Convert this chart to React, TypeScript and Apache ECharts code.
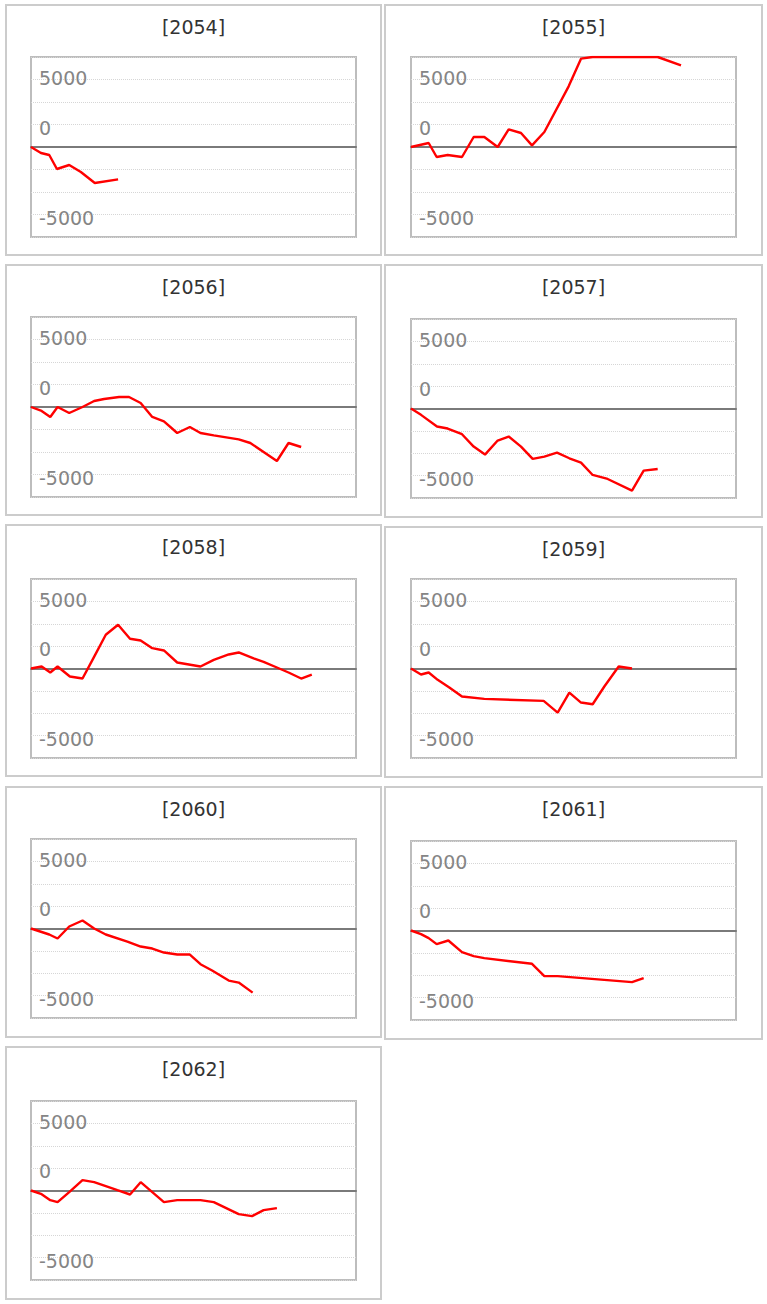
import React, { useEffect, useRef } from "react";
import * as echarts from "echarts";

// ---------- data ----------
const panelNames = ["[2054]", "[2055]", "[2056]", "[2057]", "[2058]", "[2059]", "[2060]", "[2061]", "[2062]"];

// x = games played, y = difference (coins)
const x2054 = [0, 307, 562, 798, 1176, 1534, 1963, 2679];
const y2054 = [0, -667, -889, -2444, -2000, -2778, -4000, -3593];

const x2055 = [0, 544, 790, 1128, 1569, 1928, 2256, 2667, 3005, 3385, 3723, 4103, 4851, 5231, 5590, 7590, 8308];
const y2055 = [0, 444, -1111, -889, -1111, 1111, 1111, 0, 1963, 1556, 185, 1667, 6741, 9815, 10000, 10000, 9074];

const x2056 = [0, 327, 593, 818, 1176, 1585, 1943, 2249, 2710, 3016, 3374, 3732, 4090, 4499, 4888, 5215, 5624, 6391, 6748, 7566, 7924, 8313];
const y2056 = [0, -444, -1111, 0, -667, 0, 667, 889, 1111, 1111, 444, -1111, -1593, -2889, -2222, -2889, -3148, -3593, -4000, -6000, -4000, -4444];

const x2057 = [0, 308, 800, 1128, 1569, 1928, 2277, 2667, 3005, 3385, 3744, 4103, 4492, 4872, 5231, 5590, 6051, 6800, 7159, 7590];
const y2057 = [0, -709, -2015, -2239, -2873, -4254, -5149, -3582, -3134, -4254, -5634, -5373, -4925, -5560, -6045, -7425, -7873, -9179, -6940, -6754];

const x2058 = [0, 327, 593, 818, 1196, 1585, 1892, 2301, 2679, 3047, 3374, 3732, 4090, 4499, 5215, 5624, 6084, 6391, 6851, 7157, 7566, 7924, 8313, 8640];
const y2058 = [0, 224, -448, 224, -895, -1119, 970, 3767, 4886, 3320, 3133, 2275, 2014, 671, 224, 970, 1567, 1790, 1119, 746, 112, -448, -1119, -671];

const x2059 = [0, 308, 544, 821, 1179, 1569, 2256, 4082, 4513, 4872, 5231, 5590, 5949, 6390, 6800];
const y2059 = [0, -671, -448, -1268, -2126, -3133, -3394, -3618, -4924, -2686, -3805, -3991, -2014, 224, 0];

const x2060 = [0, 562, 818, 1176, 1585, 1943, 2301, 2965, 3374, 3732, 4090, 4499, 4888, 5215, 5573, 6084, 6391, 6820];
const y2060 = [0, -671, -1119, 224, 895, 0, -671, -1455, -2014, -2238, -2686, -2909, -2909, -3991, -4700, -5819, -6043, -7162];

const x2061 = [0, 308, 544, 790, 1149, 1569, 1928, 2256, 3723, 4103, 4513, 6800, 7159];
const y2061 = [0, -409, -856, -1525, -1116, -2418, -2864, -3088, -3720, -5096, -5096, -5766, -5320];

const x2062 = [0, 327, 593, 818, 1176, 1585, 1943, 2301, 2658, 3047, 3374, 3732, 4090, 4499, 5215, 5624, 6135, 6391, 6800, 7157, 7566];
const y2062 = [0, -409, -1079, -1302, -186, 1153, 930, 484, 37, -446, 930, -186, -1302, -1079, -1079, -1302, -2195, -2641, -2864, -2195, -1972];

const seriesX = [x2054, x2055, x2056, x2057, x2058, x2059, x2060, x2061, x2062];
const seriesY = [y2054, y2055, y2056, y2057, y2058, y2059, y2060, y2061, y2062];

// axis tick labels as printed on the chart
const yTickValues = [7500, 2500, -7500];
const yTickLabels = ["5000", "0", "-5000"];
const Y_MIN = -10000;
const Y_MAX = 10000;
const Y_STEP = 2500;
const X_MIN = 0;
const X_MAX = 10000;

// ---------- layout ----------
const boxes = [
  { x: 6, y: 5, w: 375, h: 250 },
  { x: 385, y: 5, w: 377, h: 250 },
  { x: 6, y: 265, w: 375, h: 250 },
  { x: 385, y: 265, w: 377, h: 252 },
  { x: 6, y: 525, w: 375, h: 251 },
  { x: 385, y: 527, w: 377, h: 250 },
  { x: 6, y: 787, w: 375, h: 250 },
  { x: 385, y: 787, w: 377, h: 252 },
  { x: 6, y: 1047, w: 375, h: 252 },
];
const plots = [
  { left: 31, top: 57, width: 325, height: 180 },
  { left: 411, top: 57, width: 325, height: 180 },
  { left: 31, top: 317, width: 325, height: 180 },
  { left: 411, top: 319, width: 325, height: 179 },
  { left: 31, top: 579, width: 325, height: 179 },
  { left: 411, top: 579, width: 325, height: 179 },
  { left: 31, top: 839, width: 325, height: 179 },
  { left: 411, top: 841, width: 325, height: 179 },
  { left: 31, top: 1101, width: 325, height: 179 },
];
// label style keys (vertical nudge per label)
const labelStyleKeys = ["up", "dn", "dn"];

export default function App() {
  const ref = useRef<HTMLDivElement>(null);

  useEffect(() => {
    if (!ref.current) return;
    const chart = echarts.init(ref.current, null, { renderer: "svg" });

    const grid = plots.map((p) => ({
      left: p.left,
      top: p.top,
      width: p.width,
      height: p.height,
      show: true,
      borderColor: "#bdbdbd",
      borderWidth: 2,
      backgroundColor: "transparent",
    }));

    const xAxis = plots.map((_, i) => ({
      type: "value",
      gridIndex: i,
      min: X_MIN,
      max: X_MAX,
      axisLine: { show: true, onZero: true, lineStyle: { color: "#7a7a7a", width: 2 } },
      axisTick: { show: false },
      axisLabel: { show: false },
      splitLine: { show: false },
      z: 3,
    }));

    const labelFont = { color: "#858585", fontFamily: "DejaVu Sans", fontSize: 19 };

    const yAxis = plots.map((_, i) => ({
      type: "value",
      gridIndex: i,
      min: Y_MIN,
      max: Y_MAX,
      interval: Y_STEP,
      axisLine: { show: false },
      axisTick: { show: false },
      axisLabel: {
        show: true,
        inside: true,
        margin: 8,
        ...labelFont,
        verticalAlign: "middle",
        formatter: (v: number) => {
          const k = yTickValues.indexOf(v);
          return k >= 0 ? `{${labelStyleKeys[k]}|${yTickLabels[k]}}` : "";
        },
        rich: {
          up: { ...labelFont, padding: [0, 0, 3, 0] },
          dn: { ...labelFont, padding: [6, 0, 0, 0] },
        },
      },
      splitLine: { show: true, lineStyle: { color: "#d6d6d6", type: "dotted", width: 1 } },
    }));

    const series = seriesX.map((xs, i) => ({
      type: "line",
      xAxisIndex: i,
      yAxisIndex: i,
      data: xs.map((x, j) => [x, seriesY[i][j]]),
      symbol: "none",
      clip: true,
      lineStyle: { color: "#ff0000", width: 2.4 },
      z: 5,
    }));

    const graphic: any[] = [];
    boxes.forEach((b, i) => {
      graphic.push({
        type: "rect",
        shape: { x: b.x, y: b.y, width: b.w, height: b.h },
        style: { fill: "none", stroke: "#cccccc", lineWidth: 2 },
        silent: true,
      });
      graphic.push({
        type: "text",
        x: b.x + b.w / 2,
        y: b.y + 22,
        style: {
          text: panelNames[i],
          fontFamily: "DejaVu Sans",
          fontSize: 19,
          fill: "#333333",
          align: "center",
          verticalAlign: "middle",
        },
        silent: true,
      });
    });

    chart.setOption({
      animation: false,
      backgroundColor: "#ffffff",
      grid,
      xAxis,
      yAxis,
      series,
      graphic,
    } as any);

    return () => chart.dispose();
  }, []);

  return (
    <div
      ref={ref}
      style={{ position: "absolute", left: 0, top: 0, width: 767, height: 1304 }}
    />
  );
}
